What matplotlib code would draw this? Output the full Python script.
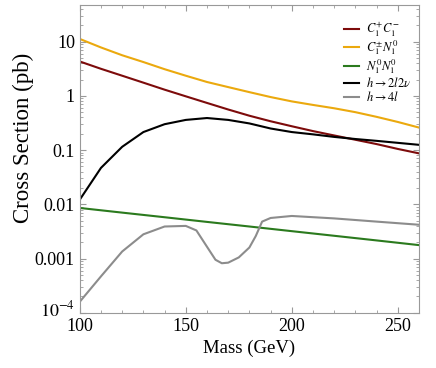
import matplotlib
matplotlib.use('Agg')
import matplotlib.pyplot as plt
import matplotlib.transforms as mtransforms
from matplotlib.ticker import FixedLocator, NullFormatter

plt.rcParams['font.family'] = 'Liberation Serif'
plt.rcParams['mathtext.fontset'] = 'stix'

mass = [100, 110, 120, 130, 140, 150, 160, 170, 180, 190, 200, 210, 220, 230, 240, 250, 260]

# chargino pair
c1c1 = [4.3, 3.15, 2.35, 1.75, 1.30, 0.98, 0.74, 0.56, 0.43, 0.34, 0.275, 0.224, 0.186, 0.155, 0.129, 0.105, 0.087]
# chargino-neutralino
c1n1 = [11.2, 7.8, 5.6, 4.2, 3.1, 2.35, 1.8, 1.45, 1.17, 0.95, 0.79, 0.68, 0.59, 0.50, 0.41, 0.33, 0.26]
# neutralino pair
mass_n = [100, 120, 140, 160, 180, 200, 220, 240, 260]
n1n1 = [0.00857, 0.00703, 0.00578, 0.00474, 0.00390, 0.00320, 0.00263, 0.00216, 0.00177]
# higgs -> 2l2nu
h2l2nu = [0.0122, 0.047, 0.115, 0.215, 0.30, 0.36, 0.39, 0.36, 0.31, 0.25, 0.215, 0.195, 0.175, 0.16, 0.148, 0.136, 0.125]
# higgs -> 4l
mass_4l = [100, 110, 120, 130, 140, 150, 155, 160, 164, 167, 170, 175, 180, 183, 186, 190, 200, 220, 240, 260]
h4l = [1.6e-4, 4.7e-4, 1.35e-3, 2.8e-3, 3.9e-3, 4.0e-3, 3.3e-3, 1.65e-3, 9.5e-4, 8.2e-4, 8.4e-4, 1.05e-3, 1.6e-3,
       2.6e-3, 4.8e-3, 5.6e-3, 6.1e-3, 5.5e-3, 4.8e-3, 4.2e-3]

ytick_vals = [1e-4, 1e-3, 1e-2, 1e-1, 1, 10]
ytick_labels = ['$10^{-4}$', '0.001', '0.01', '0.1', '1', '10']

fig = plt.figure(figsize=(4.36, 3.68), dpi=100)
ax = fig.add_axes([0.183, 0.150, 0.778, 0.836])

lw = 1.5
ax.plot(mass, c1c1, color='#7d0b0b', lw=lw, label=r'$C_1^{+}C_1^{-}$')
ax.plot(mass, c1n1, color='#eba90e', lw=lw, label=r'$C_1^{\pm}N_1^{0}$')
ax.plot(mass_n, n1n1, color='#2b7a1e', lw=lw, label=r'$N_1^{0}N_1^{0}$')
ax.plot(mass, h2l2nu, color='black', lw=lw, label=r'$h\rightarrow 2l2\nu$')
ax.plot(mass_4l, h4l, color='#8c8c8c', lw=lw, label=r'$h\rightarrow 4l$')

ax.set_yscale('log')
ax.set_xlim(100, 260)
ax.set_ylim(1e-4, 47)

ax.yaxis.set_major_locator(FixedLocator(ytick_vals))
ax.set_yticklabels(ytick_labels)
minors = [m * 10.0 ** e for e in range(-4, 2) for m in range(2, 10)]
ax.yaxis.set_minor_locator(FixedLocator(minors))
ax.yaxis.set_minor_formatter(NullFormatter())
ax.set_xticks([100, 150, 200, 250])
ax.set_xticks(range(100, 261, 10), minor=True)

ax.tick_params(which='both', direction='in', top=True, right=True, color='#999999', labelsize=13)
ax.tick_params(which='major', length=4, width=0.8)
ax.tick_params(which='minor', length=2, width=0.6)
ax.tick_params(axis='x', pad=4)
for s in ax.spines.values():
    s.set_color('#999999')
    s.set_linewidth(0.8)

# nudge the 10^-4 label up a little so it clears the "100"
lbl = ax.get_yticklabels()[0]
lbl.set_transform(lbl.get_transform() + mtransforms.ScaledTranslation(0, 3 / 72, fig.dpi_scale_trans))

ax.set_xlabel('Mass (GeV)', fontsize=13.5, labelpad=3)
ax.set_ylabel('Cross Section (pb)', fontsize=16.5)
ax.yaxis.set_label_coords(-0.135, 0.57)

ax.legend(loc='upper right', frameon=False, fontsize=9, handlelength=1.2, handletextpad=0.55,
          labelspacing=0.0, borderaxespad=0.2, bbox_to_anchor=(1.0, 0.975))

fig.savefig('out.png', dpi=100)
